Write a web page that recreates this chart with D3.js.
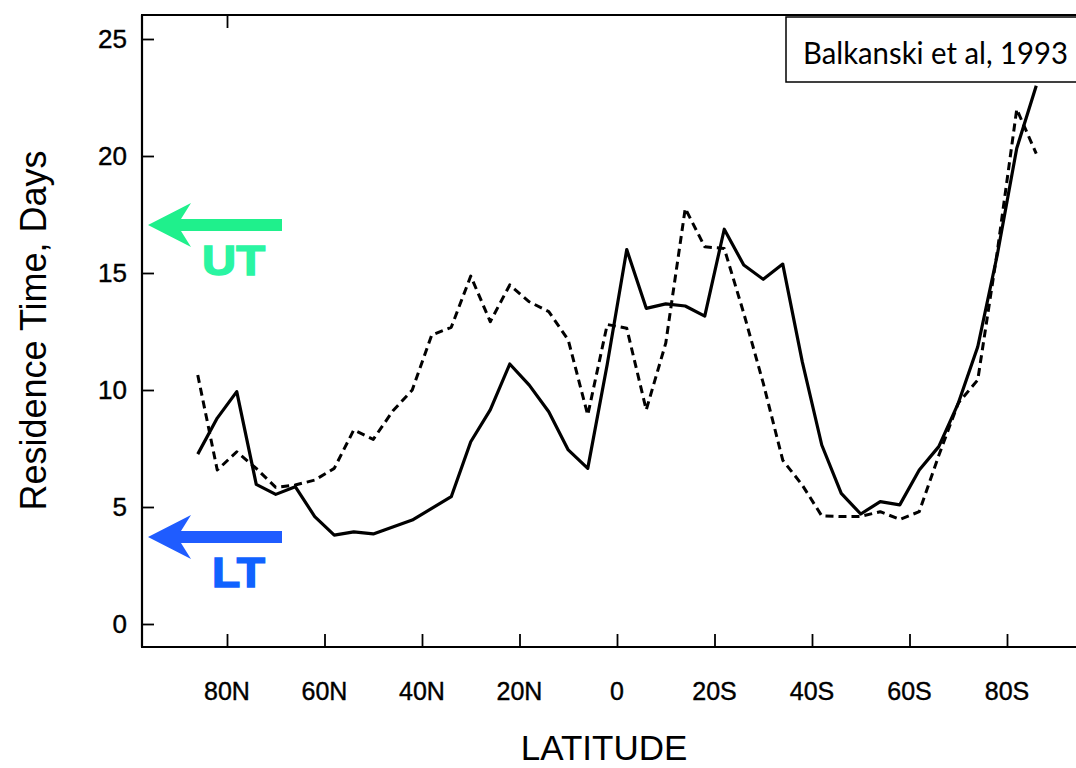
<!DOCTYPE html>
<html>
<head>
<meta charset="utf-8">
<script src="https://cdn.jsdelivr.net/npm/d3@7"></script>
<style>
  html, body { margin: 0; padding: 0; background: #fff; }
  svg { display: block; }
</style>
</head>
<body>
<svg id="chart" width="1076" height="768"></svg>
<script>
// Latitude of each model band (positive = north), 4-degree spacing
const latitudes = [86, 82, 78, 74, 70, 66, 62, 58, 54, 50, 46, 42, 38, 34, 30, 26, 22, 18, 14, 10, 6, 2,
                   -2, -6, -10, -14, -18, -22, -26, -30, -34, -38, -42, -46, -50, -54, -58, -62, -66, -70, -74, -78, -82, -86];

// Residence time (days), solid curve
const solidDays = [7.26, 8.8, 9.93, 5.97, 5.54, 5.87, 4.59, 3.80, 3.94, 3.85, 4.15, 4.44, 4.94, 5.44, 7.79, 9.15, 11.11, 10.21, 9.07, 7.44, 6.65, 11.1,
                   16.0, 13.49, 13.68, 13.59, 13.16, 16.87, 15.34, 14.73, 15.38, 11.21, 7.65, 5.58, 4.70, 5.23, 5.09, 6.58, 7.58, 9.43, 11.85, 15.77, 20.33, 23.0];

// Residence time (days), dashed curve
const dashedDays = [10.64, 6.58, 7.36, 6.65, 5.84, 5.94, 6.15, 6.65, 8.29, 7.89, 9.1, 10.0, 12.35, 12.68, 14.87, 12.92, 14.49, 13.77, 13.35, 12.14, 8.93, 12.8,
                    12.64, 9.15, 12.0, 17.76, 16.12, 16.05, 13.28, 10.29, 7.0, 5.94, 4.62, 4.59, 4.6, 4.8, 4.47, 4.8, 7.2, 9.44, 10.43, 15.9, 22.0, 20.1];

// Axis ticks
const latTicks = [80, 60, 40, 20, 0, -20, -40, -60, -80];
const latTickLabels = ["80N", "60N", "40N", "20N", "0", "20S", "40S", "60S", "80S"];
const dayTicks = [0, 5, 10, 15, 20, 25];

// Reference levels marked by arrows on the left axis
const markerNames = ["UT", "LT"];
const markerDays = [17.05, 3.72];
const markerColors = ["#1ff08c", "#1f5cff"];
const markerTextColors = ["#2af5a2", "#1062ff"];

const citation = "Balkanski et al, 1993";

const W = 1076, H = 768;
const frame = { left: 142, top: 15, right: W + 2, bottom: 647 };

const svg = d3.select("#chart");
const font = "'Liberation Sans', Arial, Helvetica, sans-serif";

const x = d3.scaleLinear().domain([80, -80]).range([227, 1007]);
const y = d3.scaleLinear().domain([0, 25]).range([624, 39]);

// Frame: left, top and bottom edges
const frameG = svg.append("g").attr("stroke", "#000").attr("stroke-width", 2.2).attr("fill", "none");
frameG.append("line").attr("x1", frame.left).attr("x2", frame.left).attr("y1", frame.top).attr("y2", frame.bottom);
frameG.append("line").attr("x1", frame.left - 1).attr("x2", frame.right).attr("y1", frame.top).attr("y2", frame.top);
frameG.append("line").attr("x1", frame.left - 1).attr("x2", frame.right).attr("y1", frame.bottom).attr("y2", frame.bottom);

// Left axis: inward ticks
const yAxis = d3.axisRight(y).tickValues(dayTicks).tickSize(12).tickFormat("");
const yg = svg.append("g").attr("transform", `translate(${frame.left},0)`).call(yAxis);
yg.select(".domain").remove();
yg.selectAll(".tick line").attr("stroke", "#000").attr("stroke-width", 1.8);

svg.append("g").selectAll("text").data(dayTicks).join("text")
  .attr("x", 127).attr("y", d => y(d)).attr("dy", "0.36em")
  .attr("text-anchor", "end")
  .attr("font-family", font).attr("font-size", 26).attr("fill", "#000")
  .attr("stroke", "#000").attr("stroke-width", 0.4)
  .text(d => d);

// Bottom axis: inward ticks with latitude labels
const xAxis = d3.axisTop(x).tickValues(latTicks).tickSize(13).tickFormat("");
const xg = svg.append("g").attr("transform", `translate(0,${frame.bottom})`).call(xAxis);
xg.select(".domain").remove();
xg.selectAll(".tick line").attr("stroke", "#000").attr("stroke-width", 1.8);

svg.append("g").selectAll("text").data(latTicks).join("text")
  .attr("x", d => x(d)).attr("y", 700)
  .attr("text-anchor", "middle")
  .attr("font-family", font).attr("font-size", 25).attr("fill", "#000")
  .attr("stroke", "#000").attr("stroke-width", 0.4)
  .text((d, i) => latTickLabels[i]);

// Top axis: tick hanging from the upper edge
const xTop = d3.axisBottom(x).tickValues(latTicks.slice(0, 1)).tickSize(13).tickFormat("");
const tg = svg.append("g").attr("transform", `translate(0,${frame.top})`).call(xTop);
tg.select(".domain").remove();
tg.selectAll(".tick line").attr("stroke", "#000").attr("stroke-width", 1.8);

// Axis titles
svg.append("text")
  .attr("transform", `translate(46,${(y(0) + y(25)) / 2 - 1}) rotate(-90)`)
  .attr("text-anchor", "middle")
  .attr("font-family", font).attr("font-size", 36).attr("fill", "#000")
  .text("Residence Time, Days");

svg.append("text")
  .attr("x", 604).attr("y", 760)
  .attr("text-anchor", "middle")
  .attr("font-family", font).attr("font-size", 35).attr("fill", "#000")
  .text("LATITUDE");

// Curves
const line = d3.line().x(d => x(d[0])).y(d => y(d[1]));
const solidPts = latitudes.map((lat, i) => [lat, solidDays[i]]);
const dashedPts = latitudes.map((lat, i) => [lat, dashedDays[i]]);

svg.append("path").datum(dashedPts)
  .attr("d", line).attr("fill", "none").attr("stroke", "#000")
  .attr("stroke-width", 3).attr("stroke-dasharray", "8,5")
  .attr("stroke-linejoin", "round");

svg.append("path").datum(solidPts)
  .attr("d", line).attr("fill", "none").attr("stroke", "#000")
  .attr("stroke-width", 3.2).attr("stroke-linejoin", "round");

// Reference arrows pointing at the left axis
markerNames.forEach((name, i) => {
  const cy = y(markerDays[i]);
  const tip = frame.left + 6, barb = frame.left + 49, notch = frame.left + 39, tail = 282;
  const half = 6, head = 22;
  const p = d3.path();
  p.moveTo(tip, cy);
  p.lineTo(barb, cy - head);
  p.lineTo(notch, cy - half);
  p.lineTo(tail, cy - half);
  p.lineTo(tail, cy + half);
  p.lineTo(notch, cy + half);
  p.lineTo(barb, cy + head);
  p.closePath();
  svg.append("path").attr("d", p.toString()).attr("fill", markerColors[i]);

  svg.append("text")
    .attr("x", 265).attr("y", cy + 50)
    .attr("text-anchor", "end")
    .attr("font-family", font).attr("font-size", 43).attr("font-weight", "bold")
    .attr("fill", markerTextColors[i]).attr("stroke", markerTextColors[i]).attr("stroke-width", 1.5)
    .attr("textLength", name === "UT" ? 63 : 53).attr("lengthAdjust", "spacingAndGlyphs")
    .text(name);
});

// Citation box in the upper right corner
svg.append("rect")
  .attr("x", 786).attr("y", 17).attr("width", 300).attr("height", 65)
  .attr("fill", "#fff").attr("stroke", "#000").attr("stroke-width", 1.5);
svg.append("text")
  .attr("x", 803).attr("y", 64)
  .attr("font-family", "Lato, 'Open Sans', sans-serif").attr("font-size", 30).attr("fill", "#000")
  .attr("textLength", 265).attr("lengthAdjust", "spacingAndGlyphs")
  .text(citation);
</script>
</body>
</html>
